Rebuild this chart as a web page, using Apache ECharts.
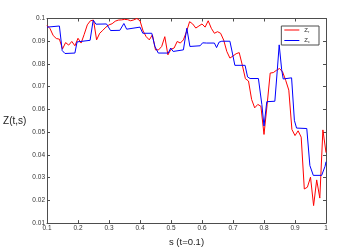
<!DOCTYPE html>
<html><head><meta charset="utf-8">
<script src="https://cdn.jsdelivr.net/npm/echarts@6/dist/echarts.min.js"></script>
<style>html,body{margin:0;padding:0;background:#fff}#c{width:360px;height:252px}</style>
</head><body><div id="c"></div>
<script>
const sRed = [0.10,0.11,0.12,0.13,0.14,0.15,0.16,0.17,0.18,0.19,0.20,0.21,0.22,0.23,0.24,0.25,0.26,0.27,0.28,0.29,0.30,0.31,0.32,0.33,0.34,0.35,0.36,0.37,0.38,0.39,0.40,0.41,0.42,0.43,0.44,0.45,0.46,0.47,0.48,0.49,0.50,0.51,0.52,0.53,0.54,0.55,0.56,0.57,0.58,0.59,0.60,0.61,0.62,0.63,0.64,0.65,0.66,0.67,0.68,0.69,0.70,0.71,0.72,0.73,0.74,0.75,0.76,0.77,0.78,0.79,0.80,0.81,0.82,0.83,0.84,0.85,0.86,0.87,0.88,0.89,0.90,0.91,0.92,0.93,0.94,0.95,0.96,0.97,0.98,0.99,1.00];
const zRed = [0.0970,0.0955,0.0925,0.0912,0.0909,0.0866,0.0894,0.0883,0.0899,0.0880,0.0913,0.0892,0.0930,0.0972,0.0990,0.0993,0.0906,0.0935,0.0948,0.0962,0.0972,0.0977,0.0988,0.0993,0.0994,0.0996,0.0995,0.0990,0.0994,0.1000,0.0990,0.0945,0.0920,0.0906,0.0928,0.0862,0.0862,0.0877,0.0920,0.0840,0.0865,0.0870,0.0899,0.0892,0.0906,0.0942,0.0986,0.0976,0.0958,0.0967,0.0976,0.0962,0.0990,0.0957,0.0935,0.0942,0.0935,0.0905,0.0855,0.0826,0.0835,0.0845,0.0850,0.0795,0.0735,0.0725,0.0644,0.0607,0.0622,0.0614,0.0490,0.0620,0.0760,0.0762,0.0772,0.0780,0.0765,0.0728,0.0685,0.0512,0.0485,0.0506,0.0478,0.0250,0.0258,0.0302,0.0177,0.0290,0.0210,0.0510,0.0410];
const sBlue = [0.100,0.140,0.149,0.158,0.190,0.197,0.239,0.249,0.258,0.292,0.305,0.335,0.348,0.357,0.400,0.409,0.438,0.448,0.459,0.491,0.499,0.507,0.540,0.551,0.561,0.594,0.602,0.615,0.640,0.647,0.655,0.664,0.690,0.698,0.706,0.739,0.747,0.755,0.782,0.793,0.800,0.809,0.835,0.843,0.849,0.857,0.862,0.889,0.898,0.905,0.938,0.948,0.959,0.986,0.997,1.000];
const zBlue = [0.0962,0.0967,0.0859,0.0846,0.0848,0.0897,0.0904,0.0993,0.0975,0.0976,0.0947,0.0948,0.0978,0.0953,0.0962,0.0935,0.0935,0.0877,0.0848,0.0848,0.0870,0.0855,0.0862,0.0957,0.0877,0.0880,0.0893,0.0892,0.0892,0.0872,0.0896,0.0900,0.0900,0.0848,0.0794,0.0794,0.0743,0.0736,0.0736,0.0622,0.0527,0.0634,0.0636,0.0775,0.0884,0.0775,0.0734,0.0739,0.0552,0.0518,0.0516,0.0353,0.0310,0.0310,0.0350,0.0370];
const legendNames = ['Zr','Zc'];
const legendSubs = ['r','c'];
const xLabel = 's (t=0.1)';
const yLabel = 'Z(t,s)';

const font = 'Liberation Sans, Arial, sans-serif';
const axisCol = '#4d4d4d';
const fmt = v => String(+v.toFixed(2));
const chart = echarts.init(document.getElementById('c'), null, {renderer:'canvas'});
const baseX = {type:'value', min:0.1, max:1, interval:0.1,
  axisLine:{show:true, onZero:false, lineStyle:{color:axisCol, width:1}},
  axisTick:{show:true, inside:true, length:3, lineStyle:{color:axisCol}},
  splitLine:{show:false}};
const baseY = {type:'value', min:0.01, max:0.1, interval:0.01,
  axisLine:{show:true, onZero:false, lineStyle:{color:axisCol, width:1}},
  axisTick:{show:true, inside:true, length:3, lineStyle:{color:axisCol}},
  splitLine:{show:false}};
chart.setOption({
  animation:false,
  backgroundColor:'#fff',
  grid:{left:47, right:34, top:18.5, bottom:27.7, containLabel:false},
  legend:{
    data:legendNames.map(n=>({name:n, icon:'rect'})), orient:'vertical', right:41, top:26,
    itemWidth:15, itemHeight:1, itemGap:4,
    backgroundColor:'#fff', borderColor:axisCol, borderWidth:1,
    padding:[1,9,1,3], borderRadius:0,
    formatter: n => '{m|Z}{s|' + legendSubs[legendNames.indexOf(n)] + '}',
    textStyle:{fontFamily:font, fontSize:6, color:'#333',
      rich:{m:{fontSize:6, fontFamily:font, color:'#333'}, s:{fontSize:4, fontFamily:font, color:'#333', padding:[3,0,0,0]}}}
  },
  xAxis:[
    Object.assign({}, baseX, {position:'bottom', name:xLabel, nameLocation:'middle', nameGap:8,
      nameTextStyle:{fontFamily:font, fontSize:9.5, color:'#222'},
      axisLabel:{fontFamily:font, fontSize:6.5, color:'#333', margin:2, formatter:fmt}}),
    Object.assign({}, baseX, {position:'top', axisLabel:{show:false}})
  ],
  yAxis:[
    Object.assign({}, baseY, {position:'left', name:yLabel, nameLocation:'middle', nameRotate:0, nameGap:18,
      nameTextStyle:{fontFamily:font, fontSize:10, color:'#222', padding:[0,0,9,0]},
      axisLabel:{fontFamily:font, fontSize:6.5, color:'#333', margin:2, formatter:fmt}}),
    Object.assign({}, baseY, {position:'right', axisLabel:{show:false}})
  ],
  series:[
    {name:legendNames[0], type:'line', symbol:'none', color:'#ff0000',
     lineStyle:{width:1, color:'#ff0000'}, data:sRed.map((s,i)=>[s,zRed[i]])},
    {name:legendNames[1], type:'line', symbol:'none', color:'#0000ff',
     lineStyle:{width:1, color:'#0000ff'}, data:sBlue.map((s,i)=>[s,zBlue[i]])}
  ]
});
</script></body></html>
